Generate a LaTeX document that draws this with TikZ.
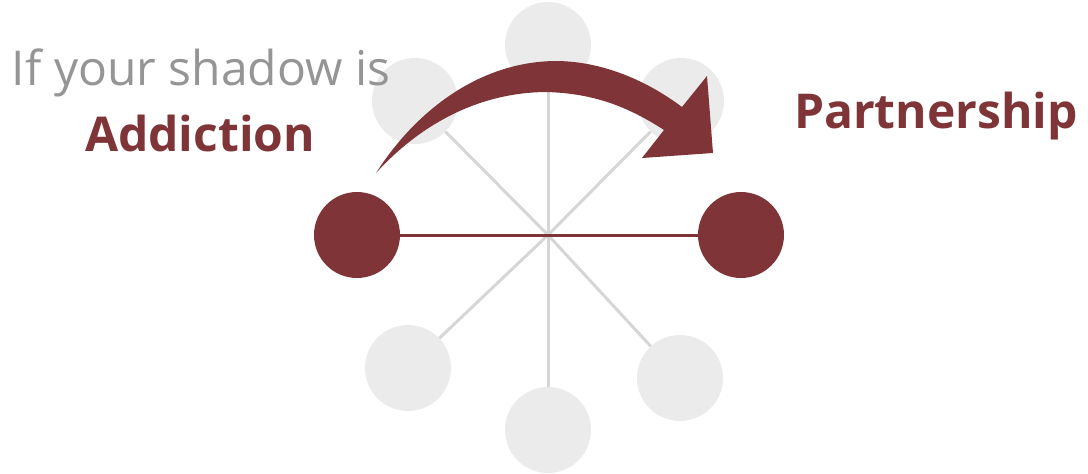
\documentclass[tikz,border=0pt]{standalone}
\usepackage{fontspec}
\setmainfont{Open Sans}
\usetikzlibrary{positioning}
\definecolor{wine}{HTML}{7F3537}
\definecolor{paleball}{HTML}{EBEBEB}
\definecolor{spokeline}{HTML}{D6D6D6}
\definecolor{captiongray}{HTML}{959595}

\begin{document}
\begin{tikzpicture}[x=1pt,y=-1pt,
  ball/.style={circle,inner sep=0pt,minimum size=86pt,fill=paleball},
  mainball/.style={ball,fill=wine},
  spoke/.style={spokeline,line width=3pt},
  caption/.style={anchor=base,inner sep=0pt,font=\fontsize{48}{56}\selectfont}]
\useasboundingbox (0,0) rectangle (1088,474);
\coordinate (hub) at (548,235);
% outer ring of pale balls
\node [ball] (top) at (548,45) {};
\node [ball] (topleft) at (415,101) {};
\node [ball] (topright) at (681,101) {};
\node [ball] (botleft) at (408,368) {};
\node [ball] (bot) at (548,430) {};
\node [ball] (botright) at (680,378) {};
\node [mainball] (shadow) at (357,235) {};
\node [mainball] (partner) at (741,235) {};
\foreach \b in {top,topleft,topright,botleft,bot,botright}
  \draw [spoke] (hub) -- (\b);
\draw [wine,line width=3pt] (shadow) -- (partner);
% curved arrow
\fill [wine] (376,173) .. controls (415,112) and (478,62) .. (555,61)
  .. controls (605,61) and (650,83) .. (682,107)
  -- (707,76) -- (713,153) -- (642,158) -- (664,130)
  .. controls (630,108) and (595,93) .. (545,92)
  .. controls (475,93) and (418,127) .. (376,173) -- cycle;
% texts
\node [caption,text=captiongray] (lead) at (201,85) {If your shadow is};
\node [caption,text=wine,font=\fontsize{48}{56}\selectfont\bfseries] (addiction) at (200,151) {Addiction};
\node [caption,text=wine,font=\fontsize{48}{56}\selectfont\bfseries] (partnership) at (936,128) {Partnership};
\end{tikzpicture}
\end{document}
